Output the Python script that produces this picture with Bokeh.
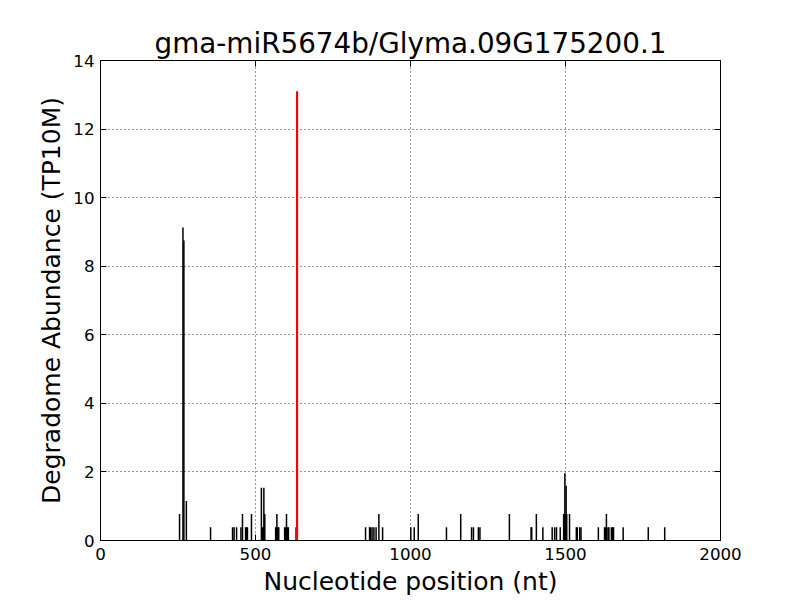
from bokeh.plotting import figure
from bokeh.models import LinearAxis, FixedTicker, Range1d, CustomLabelingPolicy
from bokeh.embed import file_html
from bokeh.resources import INLINE

title = "gma-miR5674b/Glyma.09G175200.1"
x_label = "Nucleotide position (nt)"
y_label = "Degradome Abundance (TP10M)"

x_ticks = [0, 500, 1000, 1500, 2000]
y_ticks = [0, 2, 4, 6, 8, 10, 12, 14]

positions = [255, 266, 269, 277, 355, 426, 431, 439, 453, 458, 468, 471, 474, 487,
             519, 522, 525, 527, 530, 565, 567, 569, 572, 575, 594, 597, 600, 603, 606, 631,
             855, 868, 871, 876, 882, 889, 898, 910, 1001, 1012, 1025,
             1116, 1162, 1197, 1203, 1219, 1224, 1319,
             1389, 1391, 1406, 1427, 1457, 1465, 1471, 1483,
             1494, 1496, 1498, 1500, 1502, 1504, 1513, 1535, 1538, 1546, 1550,
             1606, 1626, 1629, 1632, 1637, 1640, 1648, 1652, 1655, 1686, 1767, 1820]
abundance = [0.77, 9.13, 8.75, 1.15, 0.385, 0.385, 0.385, 0.385, 0.385, 0.77, 0.385, 0.385, 0.385, 0.77,
             1.54, 0.385, 0.385, 1.54, 0.77, 0.385, 0.385, 0.77, 0.385, 0.385, 0.385, 0.385, 0.77, 0.385, 0.385, 0.385,
             0.385, 0.385, 0.385, 0.385, 0.385, 0.385, 0.77, 0.385, 0.385, 0.385, 0.77,
             0.385, 0.77, 0.385, 0.385, 0.385, 0.385, 0.77,
             0.385, 0.385, 0.77, 0.385, 0.385, 0.385, 0.385, 0.385,
             0.77, 0.77, 1.96, 0.77, 1.6, 0.77, 0.77, 0.385, 0.385, 0.385, 0.385,
             0.385, 0.385, 0.385, 0.77, 0.385, 0.385, 0.385, 0.385, 0.385, 0.385, 0.385, 0.385]

target_pos = [634]
target_val = [13.1]

FONT = "DejaVu Sans"

p = figure(frame_width=620, frame_height=480,
           x_range=Range1d(0, 2000), y_range=Range1d(0, 14),
           output_backend="svg", toolbar_location=None,
           min_border_left=100, min_border_right=80, min_border_top=60, min_border_bottom=60,
           title=title)

p.background_fill_color = "white"
p.border_fill_color = "white"
p.outline_line_color = "black"
p.outline_line_width = 1

p.title.text_font = FONT
p.title.text_font_size = "27.8px"
p.title.text_font_style = "normal"
p.title.text_color = "black"
p.title.align = "center"
p.title.standoff = 2

for ax in (p.xaxis[0], p.yaxis[0]):
    ax.major_label_text_font = FONT
    ax.major_label_text_font_size = "16.7px"
    ax.axis_label_text_font = FONT
    ax.axis_label_text_font_size = "25px"
    ax.axis_label_text_font_style = "normal"
    ax.major_tick_in = 6
    ax.major_tick_out = 0
    ax.minor_tick_in = 0
    ax.minor_tick_out = 0
    ax.major_tick_line_color = "black"
    ax.axis_line_color = "black"
    ax.major_label_text_color = "black"
    ax.axis_label_text_color = "black"

p.xaxis[0].ticker = FixedTicker(ticks=x_ticks)
p.yaxis[0].ticker = FixedTicker(ticks=y_ticks)
p.xaxis.axis_label = x_label
p.yaxis.axis_label = y_label
p.xaxis.major_label_standoff = 7
p.yaxis.major_label_standoff = 6
p.xaxis.axis_label_standoff = 4
p.yaxis.axis_label_standoff = 4

top = LinearAxis(ticker=FixedTicker(ticks=x_ticks), major_tick_in=6, major_tick_out=0,
                 minor_tick_in=0, minor_tick_out=0, major_label_text_font_size="0px",
                 major_label_standoff=0, axis_line_color="black",
                 major_label_policy=CustomLabelingPolicy(code=""))
right = LinearAxis(ticker=FixedTicker(ticks=y_ticks), major_tick_in=6, major_tick_out=0,
                   minor_tick_in=0, minor_tick_out=0, major_label_text_font_size="0px",
                   major_label_standoff=0, axis_line_color="black",
                   major_label_policy=CustomLabelingPolicy(code=""))
p.add_layout(top, "above")
p.add_layout(right, "right")

p.xgrid.ticker = FixedTicker(ticks=x_ticks)
p.ygrid.ticker = FixedTicker(ticks=y_ticks)
for g in (p.xgrid[0], p.ygrid[0]):
    g.grid_line_color = "black"
    g.grid_line_alpha = 0.8
    g.grid_line_dash = "1 3"
    g.grid_line_width = 1

p.segment(x0=positions, y0=[0] * len(positions), x1=positions, y1=abundance,
          line_color="black", line_width=1.5)
p.segment(x0=target_pos, y0=[0], x1=target_pos, y1=target_val,
          line_color="red", line_width=2.2)

open("out.html", "w").write(file_html(p, INLINE))
